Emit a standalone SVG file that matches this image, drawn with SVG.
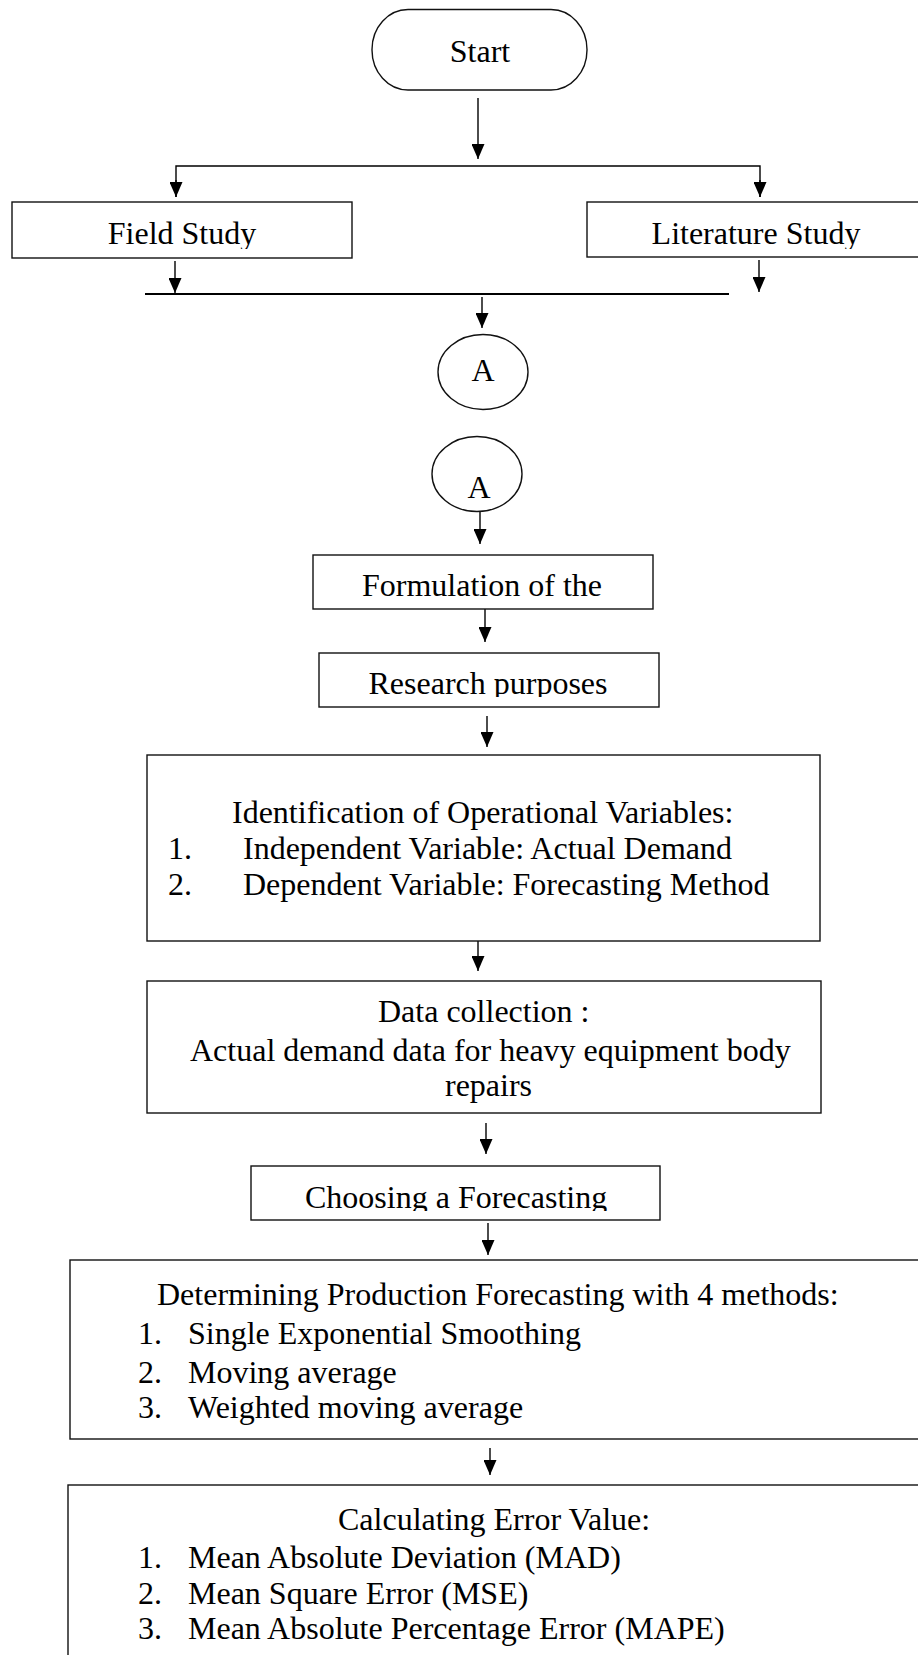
<svg xmlns="http://www.w3.org/2000/svg" width="918" height="1655" viewBox="0 0 918 1655">
<style>
.box{fill:#fff;stroke:#111;stroke-width:1.4}
.t{font-family:"Liberation Serif","Times New Roman",serif;font-size:32px;fill:#000}
.m{text-anchor:middle}
.c{fill:none;stroke:#000;stroke-width:1.4}
.bar{fill:none;stroke:#000;stroke-width:2.2}
</style>
<defs>
<marker id="ah" markerUnits="userSpaceOnUse" markerWidth="15" markerHeight="13" refX="15" refY="6.5" orient="auto">
<path d="M0,0 L15,6.5 L0,13 z" fill="#000"/>
</marker>
<clipPath id="cpField"><rect x="0" y="195" width="918" height="54"/></clipPath>
<clipPath id="cpRes"><rect x="0" y="650" width="918" height="47"/></clipPath>
<clipPath id="cpChoose"><rect x="0" y="1160" width="918" height="51"/></clipPath>
</defs>
<rect width="918" height="1655" fill="#fff"/>

<g id="connectors">
<line class="c" x1="478" y1="98" x2="478" y2="159" marker-end="url(#ah)"/>
<polyline class="c" points="176,197 176,166 760,166 760,197"/>
<line class="c" x1="176" y1="180" x2="176" y2="197" marker-end="url(#ah)"/>
<line class="c" x1="760" y1="180" x2="760" y2="197" marker-end="url(#ah)"/>
<line class="c" x1="175" y1="261" x2="175" y2="293" marker-end="url(#ah)"/>
<line class="c" x1="759" y1="260" x2="759" y2="292" marker-end="url(#ah)"/>
<line class="bar" x1="145" y1="294" x2="729" y2="294"/>
<line class="c" x1="482" y1="297" x2="482" y2="328" marker-end="url(#ah)"/>
<line class="c" x1="480" y1="512" x2="480" y2="544" marker-end="url(#ah)"/>
<line class="c" x1="485" y1="609" x2="485" y2="642" marker-end="url(#ah)"/>
<line class="c" x1="487" y1="716" x2="487" y2="747" marker-end="url(#ah)"/>
<line class="c" x1="478" y1="941" x2="478" y2="971" marker-end="url(#ah)"/>
<line class="c" x1="486" y1="1123" x2="486" y2="1154" marker-end="url(#ah)"/>
<line class="c" x1="488" y1="1223" x2="488" y2="1255" marker-end="url(#ah)"/>
<line class="c" x1="490" y1="1448" x2="490" y2="1475" marker-end="url(#ah)"/>
</g>

<g id="start">
<rect class="box" x="372" y="9.5" width="215" height="80.5" rx="36" ry="40"/>
<text class="t m" x="480" y="62">Start</text>
</g>

<g id="field-study">
<rect class="box" x="12" y="202" width="340" height="56"/>
<text class="t m" x="182" y="244" clip-path="url(#cpField)">Field Study</text>
</g>

<g id="literature-study">
<rect class="box" x="587" y="202" width="340" height="55"/>
<text class="t m" x="756" y="244" clip-path="url(#cpField)">Literature Study</text>
</g>

<g id="connector-a-out">
<ellipse class="box" cx="483" cy="372" rx="45" ry="37.5"/>
<text class="t m" x="483" y="381">A</text>
</g>

<g id="connector-a-in">
<ellipse class="box" cx="477" cy="474" rx="45" ry="37.5"/>
<text class="t m" x="479" y="498">A</text>
</g>

<g id="formulation">
<rect class="box" x="313" y="555" width="340" height="54"/>
<text class="t m" x="482" y="596">Formulation of the</text>
</g>

<g id="research-purposes">
<rect class="box" x="319" y="653" width="340" height="54"/>
<text class="t m" x="488" y="694" clip-path="url(#cpRes)">Research purposes</text>
</g>

<g id="identification">
<rect class="box" x="147" y="755" width="673" height="186"/>
<text class="t" x="232" y="823">Identification of Operational Variables:</text>
<text class="t" x="168" y="859">1.</text>
<text class="t" x="243" y="859">Independent Variable: Actual Demand</text>
<text class="t" x="168" y="895">2.</text>
<text class="t" x="243" y="895">Dependent Variable: Forecasting Method</text>
</g>

<g id="data-collection">
<rect class="box" x="147" y="981" width="674" height="132"/>
<text class="t" x="378" y="1022">Data collection :</text>
<text class="t" x="190" y="1061">Actual demand data for heavy equipment body</text>
<text class="t" x="445" y="1096">repairs</text>
</g>

<g id="choosing">
<rect class="box" x="251" y="1166" width="409" height="54"/>
<text class="t" x="305" y="1208" clip-path="url(#cpChoose)">Choosing a Forecasting</text>
</g>

<g id="determining">
<rect class="box" x="70" y="1260" width="860" height="179"/>
<text class="t" x="157" y="1305">Determining Production Forecasting with 4 methods:</text>
<text class="t" x="138" y="1344">1.</text>
<text class="t" x="188" y="1344">Single Exponential Smoothing</text>
<text class="t" x="138" y="1383">2.</text>
<text class="t" x="188" y="1383">Moving average</text>
<text class="t" x="138" y="1418">3.</text>
<text class="t" x="188" y="1418">Weighted moving average</text>
</g>

<g id="calculating">
<rect class="box" x="68" y="1485" width="862" height="200"/>
<text class="t" x="338" y="1530">Calculating Error Value:</text>
<text class="t" x="138" y="1568">1.</text>
<text class="t" x="188" y="1568">Mean Absolute Deviation (MAD)</text>
<text class="t" x="138" y="1604">2.</text>
<text class="t" x="188" y="1604">Mean Square Error (MSE)</text>
<text class="t" x="138" y="1639">3.</text>
<text class="t" x="188" y="1639">Mean Absolute Percentage Error (MAPE)</text>
</g>
</svg>
